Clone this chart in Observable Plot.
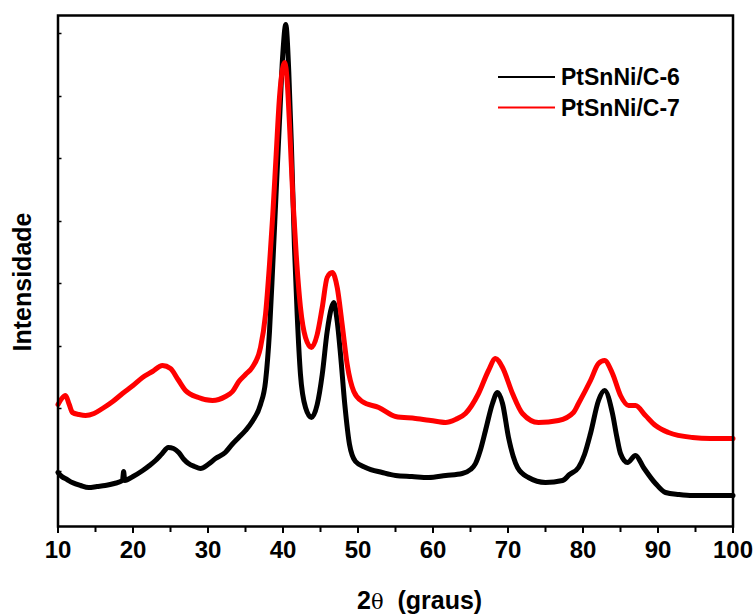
<!DOCTYPE html>
<html><head><meta charset="utf-8">
<script src="https://cdn.jsdelivr.net/npm/d3@7"></script>
<script src="https://cdn.jsdelivr.net/npm/@observablehq/plot@0.6"></script>
<style>
html,body{margin:0;padding:0;background:#fff;}
#wrap{position:relative;width:753px;height:614px;}
</style></head><body><div id="wrap"></div>
<script>
// PtSnNi/C-6 (black)
const theta6 = [10.0,10.5,11.2,11.9,13.0,14.1,15.2,16.3,17.5,18.6,18.75,18.9,20.0,21.3,22.2,23.0,23.9,24.7,25.4,26.1,26.8,27.4,28.2,29.0,30.0,31.0,32.3,33.2,34.1,35.0,35.9,37.0,37.67,38.2,38.64,39.09,39.53,39.97,40.37,40.77,41.13,41.53,41.89,42.33,43.0,43.8,44.56,45.23,45.89,46.47,46.77,47.23,47.67,48.24,48.87,49.67,51.0,53.23,55.0,57.2,59.4,61.7,63.9,65.0,65.67,66.3,67.0,67.93,68.6,69.27,70.07,70.7,71.27,72.73,75.0,77.27,78.2,79.4,80.2,81.0,82.07,82.87,83.93,84.5,85.0,85.93,87.0,88.07,89.67,91.0,92.8,94.6,97.0,100.0];
const int6 = [54,50,47,44,41,39,40,41,43,46,55,46,50,56,61,66,73,79,78,74,67,63,60,58,62,68,74,82,89,96,105,122,145,195,262,335,405,472,502,455,379,279,212,152,119,109,122,152,195,219,224,205,172,122,82,65,59,54,51,50,49,51,53,57,63,76,96,123,134,123,89,70,59,49,44,46,52,59,72,93,126,136,113,90,73,64,71,59,43,34,32,31,31,31];
// PtSnNi/C-7 (red)
const theta7 = [10.0,10.5,11.0,11.5,11.93,12.8,13.67,14.8,15.93,17.3,18.6,20.0,21.27,22.6,23.93,25.0,26.0,27.0,28.73,30.6,32.33,33.27,34.11,35.0,35.89,37.0,37.67,38.2,38.64,39.09,39.53,39.97,40.24,40.56,40.91,41.31,41.76,42.33,43.0,43.8,44.56,45.23,45.89,46.56,47.23,47.89,48.56,49.44,50.56,52.77,55.0,57.67,59.7,61.67,63.0,64.33,66.07,67.4,68.33,69.27,70.6,71.93,74.07,76.73,78.73,79.4,81.0,82.07,82.87,83.93,85.0,86.07,87.0,88.33,89.67,91.4,94.6,97.0,100.0];
const int7 = [122,128,131,122,114,112,111,113,118,125,133,141,149,155,161,158,147,136,129,126,130,135,145,152,159,179,212,262,312,372,429,459,464,445,395,329,272,219,189,179,192,219,249,254,239,202,162,135,125,119,110,108,106,104,107,113,133,156,168,159,133,113,104,106,114,123,146,163,166,153,131,121,121,111,101,94,89,88,88];

const seriesNames = ["PtSnNi/C-6", "PtSnNi/C-7"];
const seriesColors = ["#000000", "#ff0000"];
const xMajor = [10,20,30,40,50,60,70,80,90,100];
const xMinor = [15,25,35,45,55,65,75,85,95];
const yTicks = [55,118,180,243,305,368,430,493];
const xTitle = ["2", "θ", "  (graus)"];
const yTitle = "Intensidade";

const rows6 = theta6.map((t, i) => ({t, v: int6[i]}));
const rows7 = theta7.map((t, i) => ({t, v: int7[i]}));

const FONT = '"Liberation Sans", Arial, Helvetica, sans-serif';

const chart = Plot.plot({
  width: 753, height: 614,
  marginLeft: 57.5, marginRight: 20.5, marginTop: 15, marginBottom: 88,
  x: {domain: [10, 100]},
  y: {domain: [0, 511]},
  style: {fontFamily: FONT, background: "white", fontSize: "24px", fontWeight: "bold", color: "black"},
  marks: [
    Plot.line(rows6, {x: "t", y: "v", stroke: seriesColors[0], strokeWidth: 5, curve: "monotone-x"}),
    Plot.line(rows7, {x: "t", y: "v", stroke: seriesColors[1], strokeWidth: 5, curve: "monotone-x"}),
    Plot.frame({stroke: "black", strokeWidth: 2.5}),
    Plot.axisX({ticks: xMajor, tickSize: 7, tickPadding: 7, fontSize: 24, fontWeight: "bold", strokeWidth: 2, label: null, tickFormat: d => String(d)}),
    Plot.axisX({ticks: xMinor, tickSize: 6, strokeWidth: 2, label: null, tickFormat: () => ""}),
    Plot.axisY({ticks: yTicks, tickSize: 4, dx: 4, strokeWidth: 1.5, label: null, tickFormat: () => ""})
  ]
});

const svg = d3.select(chart);
// axis titles
const xt = svg.append("text")
  .attr("x", 357).attr("y", 609)
  .attr("text-anchor", "start")
  .attr("font-family", FONT).attr("font-size", 25).attr("font-weight", "bold").attr("fill", "black")
  .style("white-space", "pre");
xt.append("tspan").text(xTitle[0]);
xt.append("tspan").attr("font-weight", "normal").attr("font-family", '"DejaVu Serif", serif').attr("font-size", 21).text(xTitle[1]);
xt.append("tspan").text(xTitle[2]);
svg.append("text")
  .attr("transform", "translate(31,282) rotate(-90)")
  .attr("text-anchor", "middle")
  .attr("font-family", FONT).attr("font-size", 25).attr("font-weight", "bold").attr("fill", "black")
  .text(yTitle);

// legend
const lg = svg.append("g");
seriesNames.forEach((name, i) => {
  const y = 77 + i * 30.5;
  lg.append("line").attr("x1", 498).attr("x2", 555).attr("y1", y).attr("y2", y)
    .attr("stroke", seriesColors[i]).attr("stroke-width", 2);
  lg.append("text").attr("x", 561).attr("y", y + 8)
    .attr("text-anchor", "start")
    .attr("font-family", FONT).attr("font-size", 23).attr("font-weight", "bold").attr("fill", "black")
    .text(name);
});

document.getElementById("wrap").appendChild(chart);
</script></body></html>
